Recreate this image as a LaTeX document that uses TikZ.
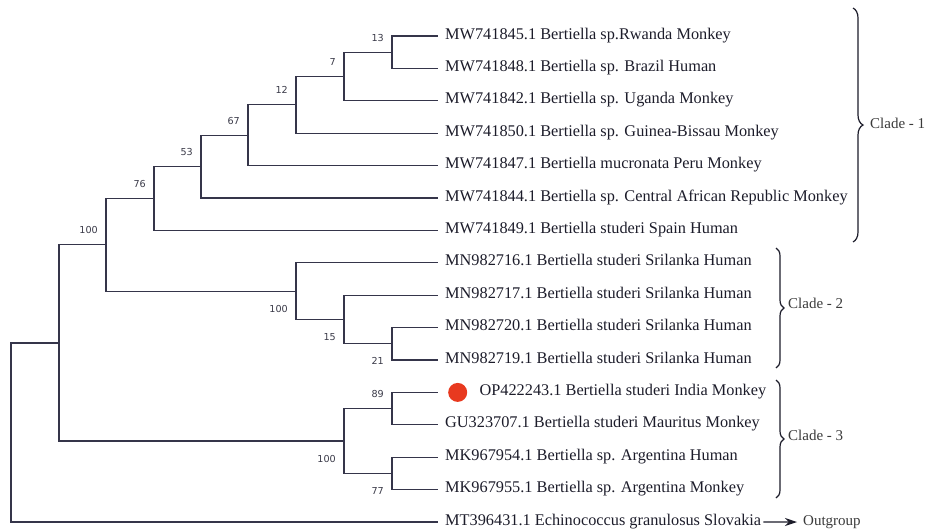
\documentclass[tikz,border=0pt]{standalone}
\usepackage{fontspec}
\setmainfont{Liberation Serif}
\newfontfamily\bootfont{DejaVu Sans}
\usetikzlibrary{arrows.meta,positioning,decorations.pathreplacing}
\definecolor{Branch}{HTML}{35354A}
\definecolor{Ink}{HTML}{1C1C2A}
\definecolor{BootGray}{HTML}{3A3A48}
\definecolor{CladeGray}{HTML}{3A3A3A}
\definecolor{DotRed}{HTML}{E8391F}

\begin{document}
\begin{tikzpicture}[x=1pt,y=-1pt,
    branch/.style={draw=Branch,line width=1.2pt},
    leaf/.style={anchor=west,inner sep=0pt,text height=0.62em,text depth=0pt,
      font=\fontsize{16.3}{18}\selectfont,text=Ink},
    bs/.style={inner sep=0pt,text height=0.73em,text depth=0pt,
      font=\bootfont\fontsize{9.6}{10}\selectfont,text=BootGray},
    clade/.style={anchor=west,inner sep=0pt,text height=0.66em,text depth=0pt,
      font=\fontsize{15}{16}\selectfont,text=CladeGray},
    brace/.style={decorate,decoration={brace,amplitude=#1},draw=Ink,line width=1.2pt}
  ]
    \useasboundingbox (0,0) rectangle (926,531);
    % Leaf tips
    \foreach \i in {1,...,16} \coordinate (t\i) at (438,{36+32.4*(\i-1)});
    % Internal nodes
    \coordinate (n13)   at (392,52.2);
    \coordinate (n7)    at (344,76.5);
    \coordinate (n12)   at (296,104.85);
    \coordinate (n67)   at (248,135.2);
    \coordinate (n53)   at (201,166.6);
    \coordinate (n76)   at (154,198.5);
    \coordinate (n21)   at (392,343.8);
    \coordinate (n15)   at (344,319.5);
    \coordinate (c2)    at (296,291.15);
    \coordinate (n100a) at (106,244.8);
    \coordinate (n89)   at (392,408.6);
    \coordinate (n77)   at (392,473.4);
    \coordinate (c3)    at (344,441);
    \coordinate (nin)   at (59,342.9);
    \coordinate (root)  at (11,432.5);
    % Branches
    \foreach \p/\c in {n13/t1,n13/t2,n7/n13,n7/t3,n12/n7,n12/t4,n67/n12,n67/t5,
        n53/n67,n53/t6,n76/n53,n76/t7,n21/t10,n21/t11,n15/t9,n15/n21,c2/t8,c2/n15,
        n100a/n76,n100a/c2,n89/t12,n89/t13,n77/t14,n77/t15,c3/n89,c3/n77,
        nin/n100a,nin/c3,root/nin,root/t16}
      \draw[branch] (\p) |- (\c);
    % Bootstrap values
    \foreach \n/\v in {n13/13,n7/7,n12/12,n67/67,n53/53,n76/76,n100a/100,n89/89}
      \node[bs,above left=11pt and 8pt of \n] (bs-\n) {\v};
    \foreach \n/\v in {c2/100,n15/15,n21/21,c3/100,n77/77}
      \node[bs,below left=13.5pt and 8pt of \n] (bs-\n) {\v};
    % Taxa
    \foreach \i/\txt in {1/{MW741845.1 Bertiella sp.Rwanda Monkey},
        2/{MW741848.1 Bertiella sp. Brazil Human},
        3/{MW741842.1 Bertiella sp. Uganda Monkey},
        4/{MW741850.1 Bertiella sp. Guinea-Bissau Monkey},
        5/{MW741847.1 Bertiella mucronata Peru Monkey},
        6/{MW741844.1 Bertiella sp. Central African Republic Monkey},
        7/{MW741849.1 Bertiella studeri Spain Human},
        8/{MN982716.1 Bertiella studeri Srilanka Human},
        9/{MN982717.1 Bertiella studeri Srilanka Human},
        10/{MN982720.1 Bertiella studeri Srilanka Human},
        11/{MN982719.1 Bertiella studeri Srilanka Human},
        13/{GU323707.1 Bertiella studeri Mauritus Monkey},
        14/{MK967954.1 Bertiella sp. Argentina Human},
        15/{MK967955.1 Bertiella sp. Argentina Monkey},
        16/{MT396431.1 Echinococcus granulosus Slovakia}}
      \node[leaf,right=7pt of t\i] (L\i) {\txt};
    % Query sequence with marker
    \node[circle,fill=DotRed,inner sep=0pt,minimum size=19pt,right=10pt of t12] (dot) {};
    \node[leaf,right=12pt of dot] (L12) {OP422243.1 Bertiella studeri India Monkey};
    % Clades
    \coordinate (b1top) at (853,8);   \coordinate (b1bot) at (853,242);
    \coordinate (b2top) at (776,248); \coordinate (b2bot) at (776,368);
    \coordinate (b3top) at (776,380); \coordinate (b3bot) at (776,498);
    \draw[brace=10pt] (b1top) -- (b1bot);
    \draw[brace=8pt]  (b2top) -- (b2bot);
    \draw[brace=8pt]  (b3top) -- (b3bot);
    \node[clade] (clade1) at (870,125) {Clade - 1};
    \node[clade] (clade2) at (788,305) {Clade - 2};
    \node[clade] (clade3) at (788,437) {Clade - 3};
    % Outgroup
    \node[clade] (og) at (803,522) {Outgroup};
    \draw[draw=Ink,line width=1.1pt,-{Stealth[length=12pt,width=8pt]},shorten <=2pt,shorten >=6pt] (L16) -- (og);
  \end{tikzpicture}
\end{document}
